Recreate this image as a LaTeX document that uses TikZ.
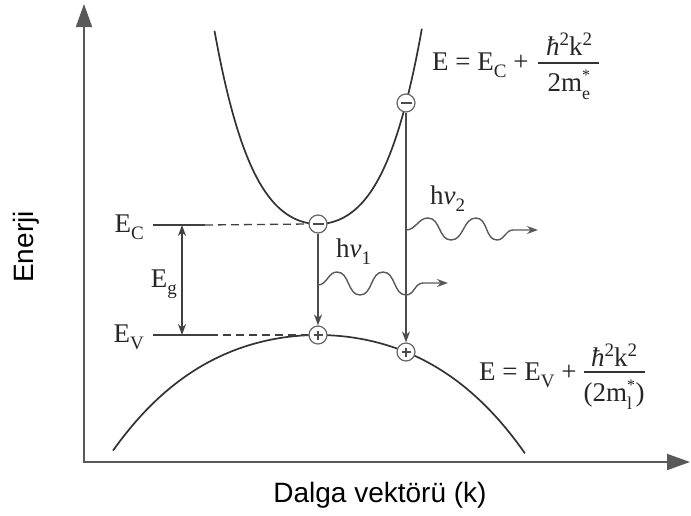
\documentclass[tikz,border=0pt]{standalone}
\usepackage{fontspec}
\setmainfont{Liberation Serif}
\newfontfamily\labelsans{Liberation Sans}
\usetikzlibrary{arrows.meta}
\newcommand\lowsub[1]{\raisebox{-0.28em}{\fontsize{19}{19}\selectfont #1}}
\newcommand\upsup[1]{\raisebox{0.36em}{\fontsize{19}{19}\selectfont #1}}
\newcommand\stk[2]{\makebox[8.5pt][l]{\rlap{\raisebox{0.40em}{\fontsize{16}{16}\selectfont #1}}\raisebox{-0.3em}{\fontsize{18}{18}\selectfont #2}}}
\begin{document}
\begin{tikzpicture}[x=1pt,y=-1pt,
  band/.style={line width=1.7pt, draw=black!80},
  axisline/.style={line width=2pt, draw=black!65, {Triangle[length=23pt,width=16pt]}-{Triangle[length=23pt,width=16pt]}},
  trans/.style={line width=1.4pt, draw=black!70, -{Stealth[length=11pt,width=8pt]}},
  photon/.style={line width=1.4pt, draw=black!65, -{Stealth[length=11pt,width=8pt]}},
  gaparrow/.style={line width=1.3pt, draw=black!75, {Stealth[length=11pt,width=8pt]}-{Stealth[length=11pt,width=8pt]}},
  level/.style={line width=1.3pt, draw=black!75},
  dashlevel/.style={level, dash pattern=on 8pt off 5pt},
  carrier/.style={circle, draw=black!60, fill=white, line width=1.2pt, minimum size=18pt, inner sep=0pt},
  ser/.style={font=\fontsize{27}{30}\selectfont, text=black!85, inner sep=0pt},
  fracpart/.style={font=\fontsize{27}{30}\selectfont, text=black!85, inner sep=0pt},
  fracbar/.style={line width=1.2pt, draw=black!80},
  sanslabel/.style={font=\labelsans\fontsize{28}{30}\selectfont, text=black, inner sep=0pt}
]
\useasboundingbox (0,0) rectangle (691,515);

% axes
\coordinate (O) at (84,462);
\coordinate (ytop) at (84,4);
\coordinate (xend) at (690,462);
\draw[axisline] (ytop) -- (O) -- (xend);

% bands
\draw[band] plot[domain=-1.035:1.04, samples=90, variable=\u, smooth]
  ({318+100*\u}, {224-93.3*\u*\u-81.25*\u*\u*\u*\u});
\draw[band] plot[domain=-2.05:2.07, samples=90, variable=\u, smooth]
  ({318+100*\u}, {335+20.7*\u*\u+1.62*\u*\u*\u*\u});

% carriers
\node[carrier] (e1) at (318,224) {};
\node[carrier] (e2) at (406,103) {};
\node[carrier] (h1) at (318,335) {};
\node[carrier] (h2) at (406,352) {};
\foreach \n in {e1,e2} \draw[line width=2pt, black!70] ([xshift=-5.5pt]\n.center) -- ([xshift=5.5pt]\n.center);
\foreach \n in {h1,h2} {
  \draw[line width=1.1pt, black!70] ([xshift=-4.5pt]\n.center) -- ([xshift=4.5pt]\n.center);
  \draw[line width=1.1pt, black!70] ([yshift=-4.5pt]\n.center) -- ([yshift=4.5pt]\n.center);
}

% levels
\coordinate (ECl) at (153,225);
\coordinate (ECm) at (205,225);
\coordinate (EVl) at (153,335);
\coordinate (EVm) at (210,335);
\draw[level] (ECl) -- (ECm);
\draw[dashlevel] (ECm) -- (e1.west);
\draw[level] (EVl) -- (EVm);
\draw[dashlevel] (EVm) -- (h1.west);
\coordinate (gt) at (182,225);
\coordinate (gb) at (182,335);
\draw[gaparrow] (gt) -- (gb);

% transitions
\draw[trans] (e1.south) -- (h1.north);
\draw[trans] (e2.south) -- (h2.north);

% photons
\coordinate (p1s) at (318,285);
\coordinate (p1e) at (448,283);
\draw[photon] (p1s) to[out=0,in=180] (337,272) to[out=0,in=180] (360,295)
  to[out=0,in=180] (383,272) to[out=0,in=180] (406,295)
  to[out=0,in=180] (423,283) -- (p1e);
\coordinate (p2s) at (406,230);
\coordinate (p2e) at (538,230);
\draw[photon] (p2s) to[out=0,in=180] (428,218) to[out=0,in=180] (451,240)
  to[out=0,in=180] (476,218) to[out=0,in=180] (497,240)
  to[out=0,in=180] (513,230) -- (p2e);

% labels
\node[ser, anchor=base east] (lEC) at (144,232) {E\lowsub{C}};
\node[ser, anchor=base east] (lEV) at (144,342) {E\lowsub{V}};
\node[ser, anchor=base east] (lEg) at (177,287) {E\lowsub{g}};
\node[ser, anchor=base west] (lh1) at (336,257) {h\textit{ν}\lowsub{1}};
\node[ser, anchor=base west] (lh2) at (430,204) {h\textit{ν}\lowsub{2}};

% formulas
\node[ser, anchor=base west] (fC) at (432,70) {E = E\lowsub{C} +};
\node[fracpart, anchor=base] (nC) at (569,55) {\textit{ħ}\upsup{2}k\upsup{2}};
\node[fracpart, anchor=base] (dC) at (569,91) {2m\stk{*}{e}};
\draw[fracbar] (538,63) -- (599,63);

\node[ser, anchor=base west] (fV) at (479,380) {E = E\lowsub{V} +};
\node[fracpart, anchor=base] (nV) at (614,366) {\textit{ħ}\upsup{2}k\upsup{2}};
\node[fracpart, anchor=base] (dV) at (614,401) {(2m\stk{*}{l})};
\draw[fracbar] (584,372) -- (645,372);

% axis titles
\node[sanslabel, rotate=90, anchor=base] (ylab) at (33,247) {Enerji};
\node[sanslabel, anchor=base] (xlab) at (380,502) {Dalga vektörü (k)};
\end{tikzpicture}
\end{document}
